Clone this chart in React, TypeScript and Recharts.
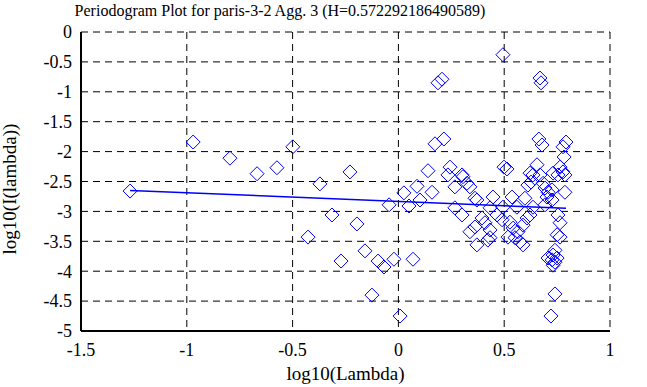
import React from 'react';
import { ScatterChart, Scatter, XAxis, YAxis, CartesianGrid } from 'recharts';

const titleText = 'Periodogram Plot for paris-3-2 Agg. 3 (H=0.572292186490589)';
const xLabel = 'log10(Lambda)';
const yLabel = 'log10(I(lambda))';

const xTicks = [-1.5, -1, -0.5, 0, 0.5, 1];
const yTicks = [-5, -4.5, -4, -3.5, -3, -2.5, -2, -1.5, -1, -0.5, 0];

const logLambda = [
  -1.268, -0.970, -0.796, -0.668, -0.574, -0.499, -0.371, -0.427, -0.314, -0.229,
  -0.196, -0.271, -0.158, -0.096, -0.068, -0.021, -0.125, 0.008, 0.069, -0.044,
  0.026, 0.088, 0.050, 0.102, 0.159, 0.140, 0.173, 0.215, 0.206, 0.187,
  0.494, 0.669, 0.674, 0.664, 0.679, 0.792, 0.778, 0.783, 0.244, 0.234,
  0.301, 0.305, 0.267, 0.324, 0.338, 0.499, 0.513, 0.655, 0.622, 0.669,
  0.636, 0.731, 0.764, 0.778, 0.754, 0.787, 0.612, 0.627, 0.693, 0.707,
  0.702, 0.726, 0.787, 0.726, 0.371, 0.267, 0.301, 0.362, 0.409, 0.395,
  0.433, 0.490, 0.466, 0.527, 0.542, 0.565, 0.589, 0.622, 0.636, 0.560,
  0.494, 0.433, 0.754, 0.764, 0.750, 0.575, 0.423, 0.371, 0.433, 0.589,
  0.551, 0.764, 0.740, 0.707, 0.726, 0.740, 0.750, 0.731, 0.731, 0.740,
  0.721, 0.362, 0.447, 0.537, 0.598, 0.518, 0.608, 0.338, 0.693, 0.684,
];

const logI = [
  -2.66, -1.84, -2.11, -2.37, -2.27, -1.92, -2.54, -3.43, -3.06, -2.34,
  -3.21, -3.83, -3.66, -3.83, -3.93, -3.80, -4.40, -4.75, -3.80, -2.89,
  -2.69, -2.58, -2.91, -2.81, -2.68, -2.32, -1.87, -1.79, -0.79, -0.85,
  -0.38, -0.77, -0.85, -1.79, -1.89, -1.84, -1.92, -2.09, -2.26, -2.39,
  -2.39, -2.42, -2.59, -2.53, -2.59, -2.26, -2.29, -2.22, -2.36, -2.39,
  -2.39, -2.36, -2.26, -2.34, -2.39, -2.39, -2.56, -2.51, -2.61, -2.68,
  -2.76, -2.64, -2.68, -2.81, -2.81, -2.94, -3.06, -3.26, -3.19, -3.11,
  -3.31, -3.14, -3.06, -3.18, -3.28, -3.34, -3.23, -3.06, -2.93, -2.93,
  -2.93, -2.94, -3.06, -3.19, -3.39, -3.51, -3.48, -3.56, -3.44, -3.56,
  -3.44, -3.43, -3.65, -3.78, -3.81, -3.85, -3.78, -3.90, -3.73, -4.38,
  -4.75, -2.78, -2.76, -2.76, -2.78, -3.43, -3.11, -3.34, -2.89, -2.53,
];

const fitX = [-1.268, 0.792];
const fitY = [-2.65, -2.948];

const points = logLambda.map((x, i) => ({ x, y: logI[i] }));
const fitLine = fitX.map((x, i) => ({ x, y: fitY[i] }));

const BLUE = '#0000ff';
const FONT = "'Liberation Serif', 'Times New Roman', serif";

const Diamond = (props: any) => {
  const { cx, cy } = props;
  if (cx == null || cy == null) return <g />;
  const r = 7;
  return (
    <path
      d={`M${cx},${cy - r}L${cx + r},${cy}L${cx},${cy + r}L${cx - r},${cy}Z`}
      fill="none"
      stroke={BLUE}
      strokeWidth={1}
    />
  );
};

const NoShape = () => <g />;
const EmptyTick = () => <g />;

const XTick = (props: any) => {
  const { x, y, payload } = props;
  return (
    <text x={x} y={y} dy="0.71em" textAnchor="middle" fontFamily={FONT} fontSize={18} fill="#000">
      {String(payload.value)}
    </text>
  );
};

const YTick = (props: any) => {
  const { x, y, payload } = props;
  return (
    <text x={x} y={y} dy="0.355em" textAnchor="end" fontFamily={FONT} fontSize={18} fill="#000">
      {String(payload.value)}
    </text>
  );
};

export default function App() {
  return (
    <div style={{ position: 'absolute', left: 0, top: 0, width: 647, height: 387, background: '#fff' }}>
      <ScatterChart width={647} height={387} margin={{ top: 32, right: 37, bottom: 0, left: 0 }}>
        <CartesianGrid stroke="#000" strokeDasharray="7 5" strokeWidth={1} />
        <XAxis
          dataKey="x"
          type="number"
          domain={[-1.5, 1]}
          ticks={xTicks}
          height={56}
          tick={XTick}
          tickSize={0}
          tickMargin={12}
          axisLine={{ stroke: '#000', strokeWidth: 2 }}
          tickLine={false}
          allowDataOverflow
        />
        <XAxis
          xAxisId="top"
          orientation="top"
          dataKey="x"
          type="number"
          domain={[-1.5, 1]}
          ticks={xTicks}
          height={0}
          mirror
          tick={EmptyTick}
          tickSize={8}
          axisLine={{ stroke: '#000', strokeWidth: 2 }}
          tickLine={{ stroke: '#000', strokeWidth: 2 }}
          allowDataOverflow
        />
        <YAxis
          dataKey="y"
          type="number"
          domain={[-5, 0]}
          ticks={yTicks}
          width={81}
          tick={YTick}
          tickSize={0}
          tickMargin={9}
          axisLine={{ stroke: '#000', strokeWidth: 2 }}
          tickLine={false}
          allowDataOverflow
        />
        <YAxis
          yAxisId="right"
          orientation="right"
          dataKey="y"
          type="number"
          domain={[-5, 0]}
          ticks={yTicks}
          width={0}
          mirror
          tick={EmptyTick}
          tickSize={8}
          axisLine={{ stroke: '#000', strokeWidth: 2 }}
          tickLine={{ stroke: '#000', strokeWidth: 2 }}
          allowDataOverflow
        />
        <Scatter data={points} shape={Diamond} isAnimationActive={false} />
        <Scatter
          data={fitLine}
          line={{ stroke: BLUE, strokeWidth: 1.5 }}
          shape={NoShape}
          isAnimationActive={false}
        />
      </ScatterChart>
      <svg
        width={647}
        height={387}
        style={{ position: 'absolute', left: 0, top: 0, pointerEvents: 'none' }}
      >
        <text x={280} y={16} textAnchor="middle" fontFamily={FONT} fontSize={16} fill="#000">
          {titleText}
        </text>
        <text x={345.5} y={380} textAnchor="middle" fontFamily={FONT} fontSize={19} fill="#000">
          {xLabel}
        </text>
        <text
          x={16}
          y={189}
          textAnchor="middle"
          fontFamily={FONT}
          fontSize={19}
          fill="#000"
          transform="rotate(-90, 16, 189)"
        >
          {yLabel}
        </text>
      </svg>
    </div>
  );
}
